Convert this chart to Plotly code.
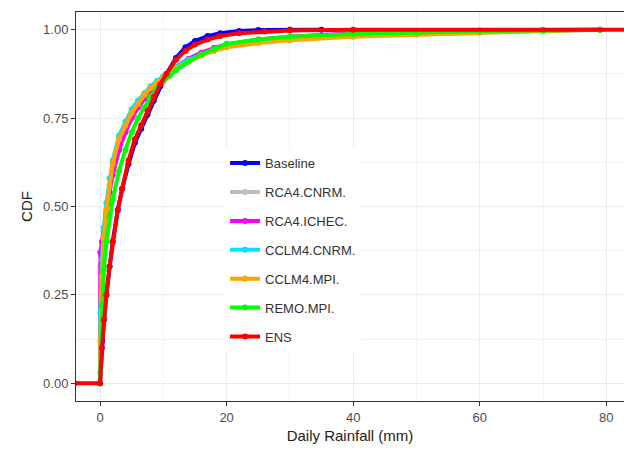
import plotly.graph_objects as go

# ---- data (x = daily rainfall mm, y = CDF) ----
names = ["Baseline", "RCA4.CNRM.", "RCA4.ICHEC.", "CCLM4.CNRM.", "CCLM4.MPI.", "REMO.MPI.", "ENS"]
colors = ["#0000FF", "#BEBEBE", "#FF00FF", "#00E5FF", "#FFA500", "#00FF00", "#FF0000"]

baseline_x = [0, 0.3, 0.6, 1.0, 1.5, 2.0, 2.8, 3.5, 4.5, 5.5, 6.5, 7.5, 8.5, 9.5, 10.5, 12, 13.5, 15, 17, 19, 22, 25, 30, 35]
baseline_y = [0.0, 0.12, 0.18, 0.25, 0.33, 0.40, 0.49, 0.55, 0.62, 0.68, 0.72, 0.76, 0.80, 0.84, 0.875, 0.92, 0.95, 0.968, 0.982, 0.99, 0.996, 0.999, 1.0, 1.0]

common_x = [0, 0.05, 0.3, 0.6, 1.0, 1.5, 2.0, 3.0, 4.0, 5.0, 6.0, 7.0, 8.0, 9.0, 10, 11, 12, 14, 16, 18, 20, 25, 30, 40, 50, 60, 70, 79]

rca4_cnrm_y = [0, 0.33, 0.38, 0.43, 0.48, 0.54, 0.59, 0.66, 0.71, 0.75, 0.78, 0.805, 0.828, 0.848, 0.865, 0.878, 0.892, 0.915, 0.932, 0.945, 0.955, 0.968, 0.977, 0.987, 0.993, 0.997, 0.999, 1.0]
rca4_ichec_y = [0, 0.37, 0.40, 0.44, 0.48, 0.54, 0.59, 0.66, 0.71, 0.75, 0.78, 0.805, 0.83, 0.85, 0.867, 0.88, 0.895, 0.918, 0.935, 0.948, 0.958, 0.972, 0.98, 0.99, 0.995, 0.998, 0.999, 1.0]
cclm4_cnrm_y = [0.0, 0.20, 0.35, 0.44, 0.51, 0.58, 0.63, 0.70, 0.74, 0.775, 0.80, 0.82, 0.84, 0.855, 0.868, 0.88, 0.895, 0.915, 0.93, 0.943, 0.952, 0.965, 0.972, 0.982, 0.988, 0.993, 0.997, 1.0]
cclm4_mpi_y = [0.0, 0.12, 0.30, 0.41, 0.49, 0.56, 0.62, 0.69, 0.73, 0.765, 0.79, 0.815, 0.835, 0.85, 0.865, 0.877, 0.89, 0.91, 0.927, 0.94, 0.95, 0.962, 0.97, 0.98, 0.986, 0.991, 0.996, 1.0]
remo_mpi_y = [0, 0.03, 0.22, 0.32, 0.40, 0.47, 0.52, 0.60, 0.66, 0.71, 0.75, 0.78, 0.81, 0.835, 0.855, 0.87, 0.885, 0.91, 0.93, 0.945, 0.96, 0.972, 0.98, 0.988, 0.993, 0.996, 0.998, 1.0]

ens_x = [-4, 0, 0.3, 0.6, 1.0, 1.5, 2.0, 2.8, 3.5, 4.5, 5.5, 6.5, 7.5, 8.5, 9.5, 10.5, 12, 13.5, 15, 17, 19, 22, 26, 30, 40, 84]
ens_y = [0, 0, 0.10, 0.18, 0.25, 0.33, 0.40, 0.49, 0.55, 0.63, 0.69, 0.73, 0.77, 0.81, 0.845, 0.875, 0.915, 0.94, 0.958, 0.972, 0.982, 0.99, 0.995, 0.998, 1.0, 1.0]

xs = [baseline_x, common_x, common_x, common_x, common_x, common_x, ens_x]
ys = [baseline_y, rca4_cnrm_y, rca4_ichec_y, cclm4_cnrm_y, cclm4_mpi_y, remo_mpi_y, ens_y]

x_ticks = [0, 20, 40, 60, 80]
y_ticks = [0.0, 0.25, 0.5, 0.75, 1.0]
y_tick_text = ["0.00", "0.25", "0.50", "0.75", "1.00"]

fig = go.Figure()
for n, c, x, y in zip(names, colors, xs, ys):
    fig.add_trace(go.Scatter(
        x=x, y=y, name=n, mode="lines+markers",
        line=dict(color=c, width=4),
        marker=dict(color=c, size=6),
        legendgroup=n,
        cliponaxis=True,
    ))

font_family = "Liberation Sans, Arial, sans-serif"
fig.update_layout(
    width=624, height=459,
    margin=dict(l=76, r=0, t=12, b=58),
    paper_bgcolor="white", plot_bgcolor="white",
    font=dict(family=font_family, color="#333333"),
    showlegend=True,
    legend=dict(
        x=0.272, y=0.65, xanchor="left", yanchor="top",
        bgcolor="white", borderwidth=0,
        font=dict(size=13, color="#333333"),
        tracegroupgap=9,
        itemwidth=30,
    ),
    xaxis=dict(
        range=[-3.8, 82.8],
        tickvals=x_ticks,
        tickfont=dict(size=13, color="#4D4D4D"),
        title=dict(text="Daily Rainfall (mm)", font=dict(size=15, color="#222222"), standoff=6),
        showgrid=True, gridcolor="#EBEBEB", gridwidth=1,
        minor=dict(showgrid=True, gridcolor="#F3F3F3", gridwidth=1, dtick=10, tick0=0),
        zeroline=False,
        showline=True, linecolor="#333333", linewidth=1, mirror=True,
        ticks="outside", ticklen=4, tickcolor="#333333",
    ),
    yaxis=dict(
        range=[-0.05, 1.05],
        tickvals=y_ticks, ticktext=y_tick_text,
        tickfont=dict(size=13, color="#4D4D4D"),
        title=dict(text="CDF", font=dict(size=15, color="#222222"), standoff=6),
        showgrid=True, gridcolor="#EBEBEB", gridwidth=1,
        minor=dict(showgrid=True, gridcolor="#F3F3F3", gridwidth=1, dtick=0.125, tick0=0),
        zeroline=False,
        showline=True, linecolor="#333333", linewidth=1, mirror=False,
        ticks="outside", ticklen=4, tickcolor="#333333",
    ),
)

fig.write_html("out.html")
